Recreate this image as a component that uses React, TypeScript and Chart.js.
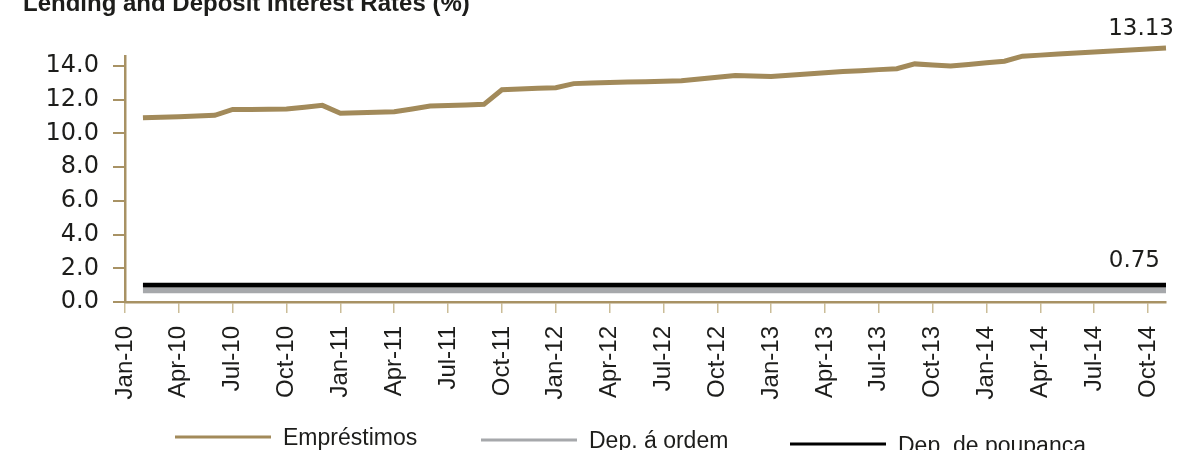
import React, { useEffect, useRef } from "react";
import { Chart, registerables } from "chart.js";

Chart.register(...registerables);

const chartTitle = "Lending and Deposit Interest Rates (%)";

// Monthly observations, Jan-10 .. Oct-14 (plotted at month end)
const months = [
  "Jan-10", "Feb-10", "Mar-10", "Apr-10", "May-10", "Jun-10", "Jul-10", "Aug-10", "Sep-10", "Oct-10", "Nov-10", "Dec-10",
  "Jan-11", "Feb-11", "Mar-11", "Apr-11", "May-11", "Jun-11", "Jul-11", "Aug-11", "Sep-11", "Oct-11", "Nov-11", "Dec-11",
  "Jan-12", "Feb-12", "Mar-12", "Apr-12", "May-12", "Jun-12", "Jul-12", "Aug-12", "Sep-12", "Oct-12", "Nov-12", "Dec-12",
  "Jan-13", "Feb-13", "Mar-13", "Apr-13", "May-13", "Jun-13", "Jul-13", "Aug-13", "Sep-13", "Oct-13", "Nov-13", "Dec-13",
  "Jan-14", "Feb-14", "Mar-14", "Apr-14", "May-14", "Jun-14", "Jul-14", "Aug-14", "Sep-14", "Oct-14",
];

const emprestimos = [
  10.92, 10.96, 10.99, 11.03, 11.07, 11.42, 11.42, 11.43, 11.44, 11.55, 11.66, 11.19,
  11.22, 11.25, 11.28, 11.45, 11.62, 11.65, 11.68, 11.72, 12.59, 12.63, 12.67, 12.71,
  12.95, 12.98, 13.01, 13.04, 13.06, 13.09, 13.12, 13.22, 13.33, 13.43, 13.40, 13.37,
  13.45, 13.52, 13.60, 13.67, 13.72, 13.78, 13.83, 14.12, 14.05, 13.99, 14.09, 14.19,
  14.28, 14.58, 14.64, 14.70, 14.76, 14.82, 14.88, 14.94, 15.00, 15.06,
];

const depOrdem = [
  0.68, 0.68, 0.68, 0.68, 0.68, 0.68, 0.68, 0.68, 0.68, 0.68, 0.68, 0.68,
  0.68, 0.68, 0.68, 0.68, 0.68, 0.68, 0.68, 0.68, 0.68, 0.68, 0.68, 0.68,
  0.68, 0.68, 0.68, 0.68, 0.68, 0.68, 0.68, 0.68, 0.68, 0.68, 0.68, 0.68,
  0.68, 0.68, 0.68, 0.68, 0.68, 0.68, 0.68, 0.68, 0.68, 0.68, 0.68, 0.68,
  0.68, 0.68, 0.68, 0.68, 0.68, 0.68, 0.68, 0.68, 0.68, 0.68,
];

const depPoupanca = [
  1.0, 1.0, 1.0, 1.0, 1.0, 1.0, 1.0, 1.0, 1.0, 1.0, 1.0, 1.0,
  1.0, 1.0, 1.0, 1.0, 1.0, 1.0, 1.0, 1.0, 1.0, 1.0, 1.0, 1.0,
  1.0, 1.0, 1.0, 1.0, 1.0, 1.0, 1.0, 1.0, 1.0, 1.0, 1.0, 1.0,
  1.0, 1.0, 1.0, 1.0, 1.0, 1.0, 1.0, 1.0, 1.0, 1.0, 1.0, 1.0,
  1.0, 1.0, 1.0, 1.0, 1.0, 1.0, 1.0, 1.0, 1.0, 1.0,
];

// Quarterly axis labels, one every three months starting Jan-10
const quarterLabels = [
  "Jan-10", "Apr-10", "Jul-10", "Oct-10", "Jan-11", "Apr-11", "Jul-11", "Oct-11",
  "Jan-12", "Apr-12", "Jul-12", "Oct-12", "Jan-13", "Apr-13", "Jul-13", "Oct-13",
  "Jan-14", "Apr-14", "Jul-14", "Oct-14",
];

const yTicks = [0, 2, 4, 6, 8, 10, 12, 14];

const seriesNames = ["Empréstimos", "Dep. á ordem", "Dep. de poupança"];

// Closing-value callouts: [dataset index, text]
const endLabels: [number, string][] = [
  [0, "13.13"],
  [2, "0.75"],
];

const GOLD = "#a28a5a";
const AXIS_GOLD = "#a89264";
const TICK_GOLD = "#cbbd98";
const GREY = "#a6a8ab";
const INK = "#1d1d1b";

// legend slots in canvas pixels: line start x, line y, text y
const legendSlots = [
  { x: 175, y: 457, ty: 459 },
  { x: 481, y: 460, ty: 462 },
  { x: 790, y: 464, ty: 467 },
];

const toPoints = (values: number[]) => months.map((_, i) => ({ x: i + 1, y: values[i] }));

const endLabelPlugin = {
  id: "endLabels",
  afterDatasetsDraw(chart: any) {
    const ctx = chart.ctx;
    ctx.save();
    ctx.font = "23px 'DejaVu Sans'";
    ctx.fillStyle = INK;
    ctx.textAlign = "right";
    ctx.textBaseline = "middle";
    endLabels.forEach(([di, text]) => {
      const pts = chart.getDatasetMeta(di).data;
      const last = pts[pts.length - 1];
      if (di === 0) ctx.fillText(text, last.x + 8, last.y - 19);
      else ctx.fillText(text, last.x - 6, last.y - 24);
    });
    ctx.restore();
  },
};

const legendPlugin = {
  id: "stackedLegend",
  afterDraw(chart: any) {
    const ctx = chart.ctx;
    ctx.save();
    ctx.font = "23px 'Liberation Sans'";
    ctx.fillStyle = INK;
    ctx.textAlign = "left";
    ctx.textBaseline = "middle";
    chart.data.datasets.forEach((ds: any, i: number) => {
      const s = legendSlots[i];
      ctx.strokeStyle = ds.borderColor;
      ctx.lineWidth = 3;
      ctx.beginPath();
      ctx.moveTo(s.x, s.y);
      ctx.lineTo(s.x + 96, s.y);
      ctx.stroke();
      ctx.fillText(ds.label, s.x + 108, s.ty);
    });
    ctx.restore();
  },
};

export default function App() {
  const canvasRef = useRef<HTMLCanvasElement | null>(null);

  useEffect(() => {
    if (!canvasRef.current) return;
    const chart = new Chart(canvasRef.current, {
      type: "line",
      data: {
        datasets: [
          {
            label: seriesNames[0],
            data: toPoints(emprestimos),
            borderColor: GOLD,
            borderWidth: 5,
            pointRadius: 0,
            tension: 0,
            clip: false as any,
            order: 0,
          },
          {
            label: seriesNames[1],
            data: toPoints(depOrdem),
            borderColor: GREY,
            borderWidth: 5.4,
            pointRadius: 0,
            borderCapStyle: "butt",
            order: 2,
          },
          {
            label: seriesNames[2],
            data: toPoints(depPoupanca),
            borderColor: "#000000",
            borderWidth: 4.6,
            pointRadius: 0,
            borderCapStyle: "butt",
            order: 1,
          },
        ],
      },
      options: {
        animation: false,
        responsive: true,
        maintainAspectRatio: false,
        layout: { padding: { left: 23, right: 13, top: 0, bottom: 48 } },
        plugins: {
          legend: { display: false },
          tooltip: { enabled: false },
          title: {
            display: true,
            text: chartTitle,
            align: "start",
            color: INK,
            font: { family: "'Liberation Sans'", size: 24, weight: "bold", lineHeight: 1.2 },
            padding: { top: 10, bottom: 37 },
          },
        },
        scales: {
          x: {
            type: "linear",
            min: 0,
            max: 58,
            afterBuildTicks: (scale: any) => {
              scale.ticks = quarterLabels.map((_, i) => ({ value: i * 3 }));
            },
            afterFit: (scale: any) => {
              scale.height = 100;
              scale.paddingLeft = 0;
              scale.paddingRight = 0;
            },
            ticks: {
              autoSkip: false,
              maxRotation: 90,
              minRotation: 90,
              padding: 13,
              color: INK,
              font: { family: "'Liberation Sans'", size: 24 },
              callback: (v: any) => quarterLabels[Math.round(Number(v) / 3)] ?? "",
            },
            grid: {
              drawOnChartArea: false,
              drawTicks: true,
              tickLength: 11,
              color: TICK_GOLD,
              lineWidth: 1.5,
            },
            border: { display: true, color: AXIS_GOLD, width: 2.5 },
          },
          y: {
            type: "linear",
            min: 0,
            max: 14.6,
            afterBuildTicks: (scale: any) => {
              scale.ticks = yTicks.map((v) => ({ value: v }));
            },
            afterFit: (scale: any) => {
              scale.width = 102;
            },
            ticks: {
              padding: 14,
              color: INK,
              font: { family: "'DejaVu Sans'", size: 24 },
              callback: (v: any) => Number(v).toFixed(1),
            },
            grid: {
              drawOnChartArea: false,
              drawTicks: true,
              tickLength: 12,
              color: AXIS_GOLD,
              lineWidth: 2,
            },
            border: { display: true, color: AXIS_GOLD, width: 2.5 },
          },
        },
      },
      plugins: [endLabelPlugin, legendPlugin],
    } as any);
    return () => chart.destroy();
  }, []);

  return (
    <div style={{ position: "fixed", left: 0, top: -20, width: 1179, height: 470, background: "#ffffff" }}>
      <canvas ref={canvasRef} />
    </div>
  );
}
